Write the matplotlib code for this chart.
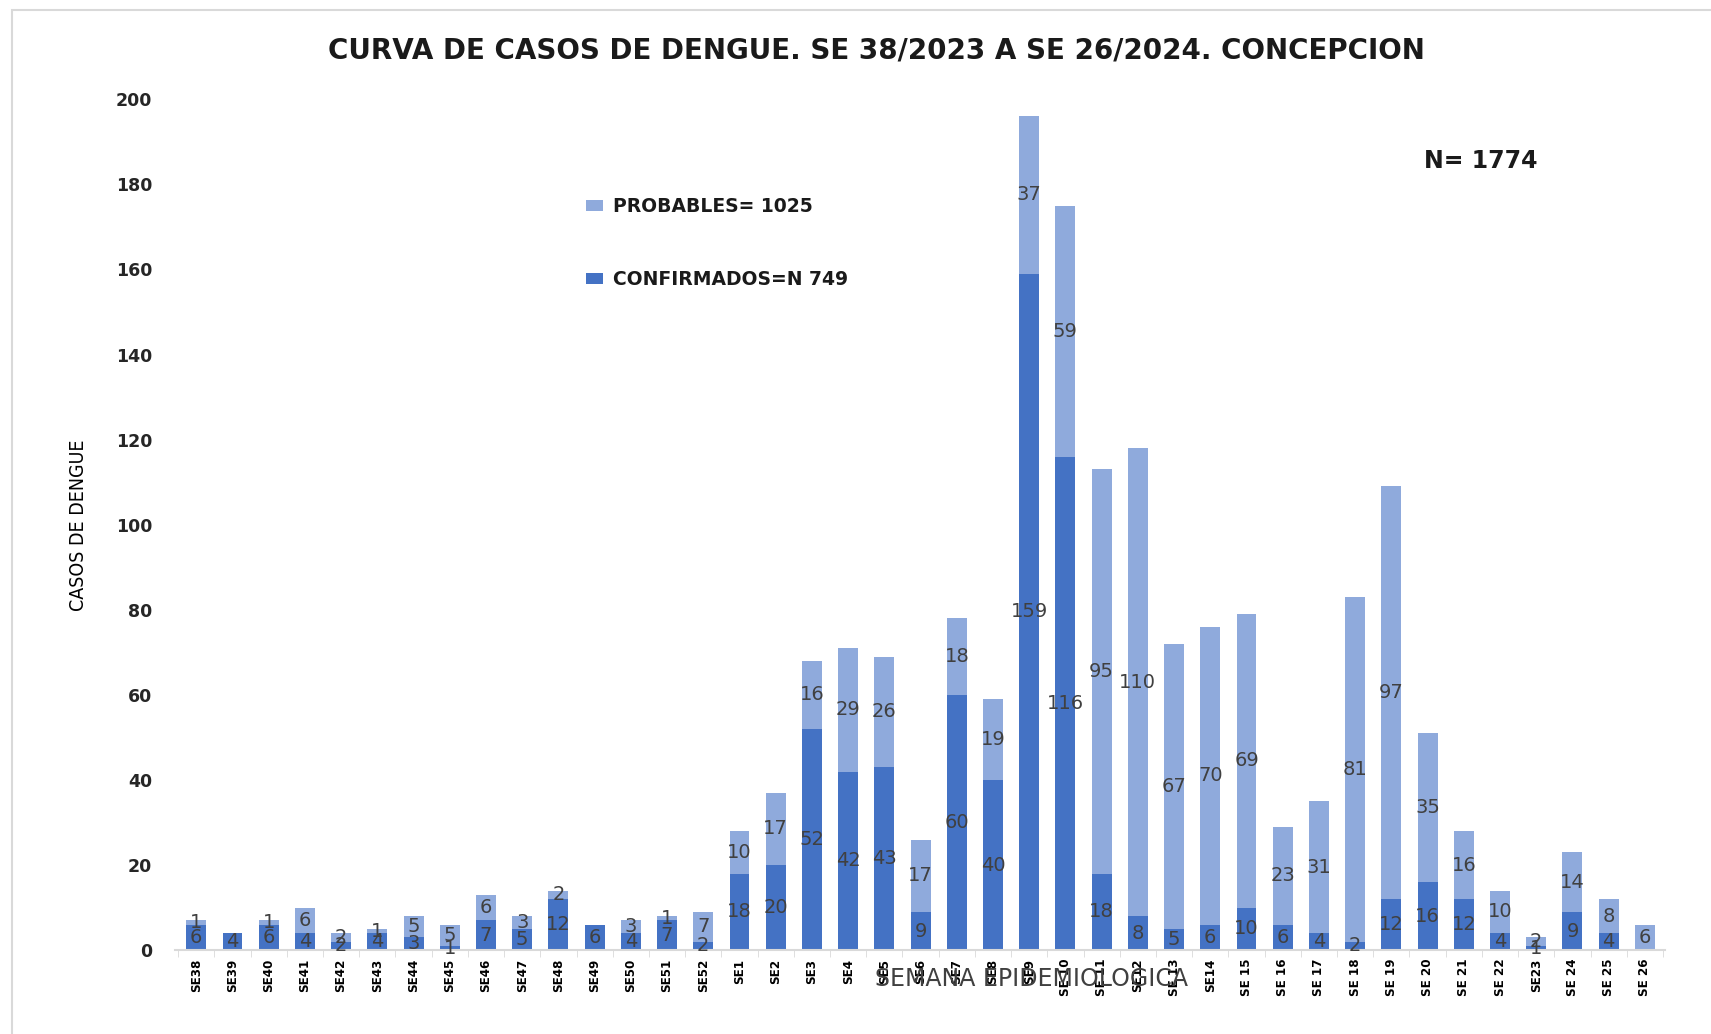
import numpy as np
import matplotlib.pyplot as plt
import matplotlib.patches as mpatches

semanas = ['SE38', 'SE39', 'SE40', 'SE41', 'SE42', 'SE43', 'SE44', 'SE45', 'SE46', 'SE47',
           'SE48', 'SE49', 'SE50', 'SE51', 'SE52', 'SE1', 'SE2', 'SE3', 'SE4', 'SE5',
           'SE6', 'SE7', 'SE8', 'SE9', 'SE 10', 'SE 11', 'SE12', 'SE 13', 'SE14', 'SE 15',
           'SE 16', 'SE 17', 'SE 18', 'SE 19', 'SE 20', 'SE 21', 'SE 22', 'SE23', 'SE 24', 'SE 25',
           'SE 26']
confirmados = [6, 4, 6, 4, 2, 4, 3, 1, 7, 5,
               12, 6, 4, 7, 2, 18, 20, 52, 42, 43,
               9, 60, 40, 159, 116, 18, 8, 5, 6, 10,
               6, 4, 2, 12, 16, 12, 4, 1, 9, 4,
               0]
probables = [1, 0, 1, 6, 2, 1, 5, 5, 6, 3,
             2, 0, 3, 1, 7, 10, 17, 16, 29, 26,
             17, 18, 19, 37, 59, 95, 110, 67, 70, 69,
             23, 31, 81, 97, 35, 16, 10, 2, 14, 8,
             6]

c_conf = '#4472C4'
c_prob = '#8FAADC'

fig = plt.figure(figsize=(17.11, 10.34), dpi=100)
ax = fig.add_axes([0.102, 0.081, 0.871, 0.823])

# marco gris alrededor de la figura
fig.patches.append(mpatches.Rectangle((0.007, -0.05), 1.1, 1.04, transform=fig.transFigure,
                                      fill=False, edgecolor='#d9d9d9', linewidth=1.5))

x = np.arange(len(semanas))
conf = np.array(confirmados)
prob = np.array(probables)

b1 = ax.bar(x, conf, width=0.55, color=c_conf, label='CONFIRMADOS=N 749')
b2 = ax.bar(x, prob, width=0.55, bottom=conf, color=c_prob, label='PROBABLES= 1025')

# etiquetas de datos
for i in range(len(x)):
    if conf[i] > 0:
        ax.text(x[i], conf[i] / 2, str(conf[i]), ha='center', va='center',
                fontsize=14, color='#404040')
    if prob[i] > 0:
        ax.text(x[i], conf[i] + prob[i] / 2, str(prob[i]), ha='center', va='center',
                fontsize=14, color='#404040')

ax.set_ylim(0, 200)
ax.set_xlim(-0.6, 40.55)
ax.set_yticks(np.arange(0, 201, 20))
ax.set_yticklabels([str(v) for v in range(0, 201, 20)], fontsize=12.5, fontweight='bold',
                   color='#262626')
ax.set_xticks(x)
ax.set_xticklabels(semanas, rotation=90, fontsize=9.5, fontweight='bold',
                   family='DejaVu Sans', fontstretch='condensed')
ax.set_xticks(np.arange(-0.5, len(x), 1), minor=True)
ax.tick_params(axis='x', which='major', length=0, pad=6)
ax.tick_params(axis='x', which='minor', length=5, color='#d9d9d9')
ax.tick_params(axis='y', length=0, pad=16)

for s in ['top', 'right', 'left']:
    ax.spines[s].set_visible(False)
ax.spines['bottom'].set_color('#d9d9d9')
ax.spines['bottom'].set_linewidth(1.5)

ax.set_ylabel('CASOS DE DENGUE', fontsize=14, family='DejaVu Sans', fontstretch='condensed')
ax.yaxis.set_label_coords(-0.058, 0.5)

fig.text(0.603, 0.053, 'SEMANA EPIDEMIOLOGICA', fontsize=17, color='#404040', ha='center',
         va='center')

fig.text(0.512, 0.951, 'CURVA DE CASOS DE DENGUE. SE 38/2023 A SE 26/2024. CONCEPCION',
         fontsize=20, fontweight='bold', ha='center', va='center', color='#1a1a1a')

fig.text(0.8655, 0.844, 'N= 1774', fontsize=17, fontweight='bold', ha='center', va='center',
         color='#1a1a1a')

leg = ax.legend(handles=[b2, b1], loc='upper left', bbox_to_anchor=(0.265, 0.905),
                frameon=False, fontsize=13.5, labelspacing=2.9, handlelength=0.9,
                handleheight=0.55, handletextpad=0.5)
for t in leg.get_texts():
    t.set_fontweight('bold')
    t.set_color('#1a1a1a')

fig.savefig('out.png', dpi=100)
